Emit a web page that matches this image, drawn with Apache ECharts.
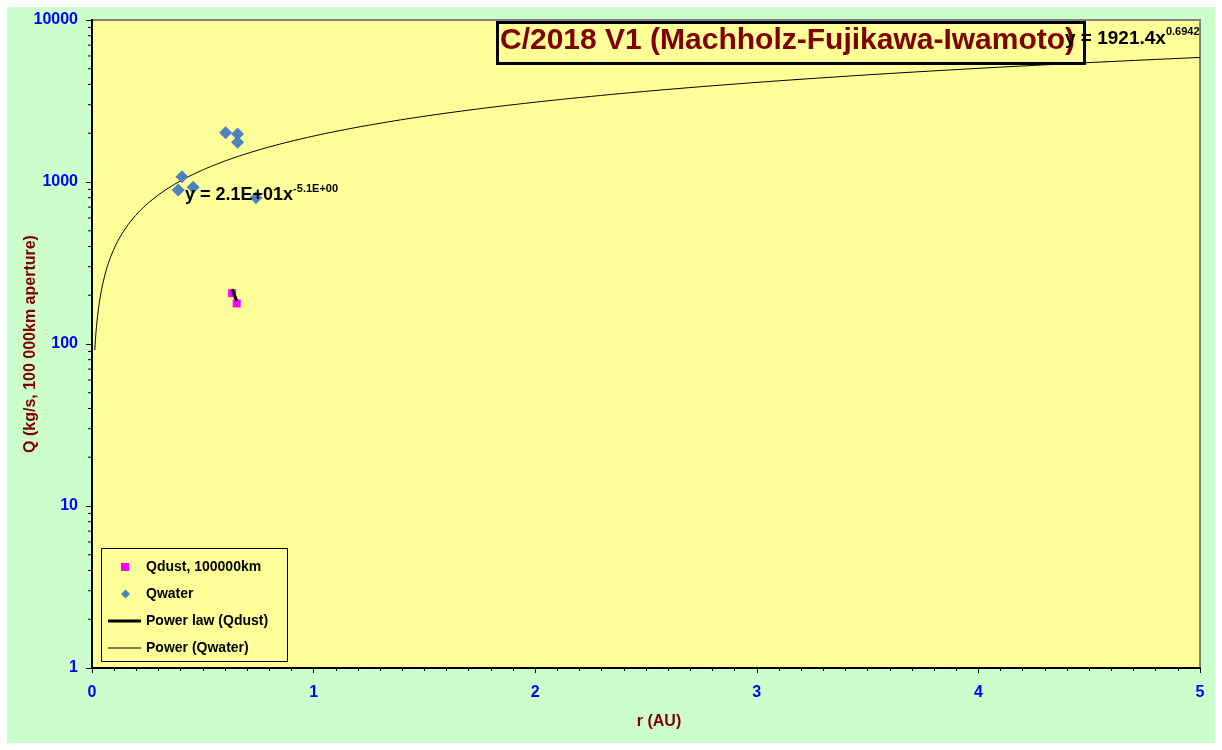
<!DOCTYPE html>
<html>
<head>
<meta charset="utf-8">
<script src="https://cdn.jsdelivr.net/npm/echarts@6/dist/echarts.min.js"></script>
<style>
html,body{margin:0;padding:0;background:#ffffff;}
#chart{position:absolute;left:7px;top:7px;width:1208px;height:736px;}
</style>
</head>
<body>
<div id="chart"></div>
<script>
// ---- data ----
const titleText = 'C/2018 V1 (Machholz-Fujikawa-Iwamoto)';
const xAxisName = 'r (AU)';
const yAxisName = 'Q (kg/s, 100 000km aperture)';
const seriesNames = ['Qdust, 100000km', 'Qwater', 'Power law (Qdust)', 'Power (Qwater)'];

const qdustR = [0.632, 0.653];
const qdustQ = [206, 178];

const qwaterR = [0.603, 0.657, 0.657, 0.406, 0.389, 0.457, 0.740];
const qwaterQ = [2015, 1977, 1758, 1078, 893, 927, 800];

// trendline coefficients as printed on the chart
const dustFitA = 21, dustFitB = -5.1;
const waterFitA = 1921.4, waterFitB = 0.6942;
const waterFitRange = [0.0125, 5];
const dustFitLabel = ['y = 2.1E+01x', '-5.1E+00'];
const waterFitLabel = ['y = 1921.4x', '0.6942'];

const yMinorTickValues = [];
[1, 10, 100, 1000].forEach(d => { for (let k = 2; k <= 9; k++) yMinorTickValues.push(k * d); });

// ---- build series data ----
const dustPts = qdustR.map((r, i) => [r, qdustQ[i]]);
const waterPts = qwaterR.map((r, i) => [r, qwaterQ[i]]);
const dustTrend = qdustR.map(r => [r, dustFitA * Math.pow(r, dustFitB)]);
const waterTrend = [];
const N = 300;
for (let i = 0; i <= N; i++) {
  const r = waterFitRange[0] * Math.pow(waterFitRange[1] / waterFitRange[0], i / N);
  waterTrend.push([r, waterFitA * Math.pow(r, waterFitB)]);
}

const FONT = "'Liberation Sans', Arial, sans-serif";
const chart = echarts.init(document.getElementById('chart'), null, {renderer: 'canvas'});

const legendText = {color: '#000', fontWeight: 'bold', fontSize: 14, fontFamily: FONT};
function legendRow(name, top, left, w, h, icon, textPad) {
  return {
    orient: 'vertical', left: left, top: top, padding: 0, borderWidth: 0,
    itemWidth: w, itemHeight: h, selectedMode: false,
    textStyle: Object.assign({padding: [0, 0, 0, textPad]}, legendText),
    data: [{name: name, icon: icon}]
  };
}

chart.setOption({
  backgroundColor: '#CCFFCC',
  animation: false,
  grid: {
    left: 85, top: 13, width: 1108, height: 648,
    containLabel: false, outerBoundsMode: 'none',
    show: true, backgroundColor: '#FFFF99', borderColor: '#808080', borderWidth: 2
  },
  xAxis: {
    type: 'value', min: 0, max: 5, interval: 1,
    name: xAxisName, nameLocation: 'middle', nameGap: 46, nameMoveOverlap: false,
    nameTextStyle: {color: '#800000', fontWeight: 'bold', fontSize: 16, fontFamily: FONT, padding: [0, 0, 0, 26]},
    axisLine: {show: true, onZero: false, lineStyle: {color: '#000', width: 2}},
    axisTick: {show: true, inside: false, length: 5, lineStyle: {color: '#000', width: 1}},
    minorTick: {show: true, splitNumber: 10, length: 3, lineStyle: {color: '#000', width: 1}},
    splitLine: {show: false},
    axisLabel: {color: '#0000FF', fontWeight: 'bold', fontSize: 16, fontFamily: FONT, margin: 17}
  },
  yAxis: {
    type: 'log', logBase: 10, min: 1, max: 10000,
    name: yAxisName, nameLocation: 'middle', nameGap: 53, nameRotate: 90, nameMoveOverlap: false,
    nameTextStyle: {color: '#800000', fontWeight: 'bold', fontSize: 16, fontFamily: FONT},
    axisLine: {show: true, onZero: false, lineStyle: {color: '#000', width: 2}},
    axisTick: {show: true, inside: false, length: 6, lineStyle: {color: '#000', width: 1}},
    splitLine: {show: false},
    axisLabel: {color: '#0000FF', fontWeight: 'bold', fontSize: 16, fontFamily: FONT, margin: 14,
                formatter: v => String(Math.round(v))}
  },
  legend: [
    legendRow(seriesNames[0], 553, 114, 8, 8, 'rect', 12),
    legendRow(seriesNames[1], 580, 114, 9, 9, 'diamond', 11),
    legendRow(seriesNames[2], 607, 101, 33, 3, 'rect', 0),
    legendRow(seriesNames[3], 634, 101, 33, 1, 'rect', 0)
  ],
  series: [
    {
      name: seriesNames[0], type: 'scatter', data: dustPts,
      symbol: 'rect', symbolSize: 8, itemStyle: {color: '#FF00FF', opacity: 1}, z: 3
    },
    {
      name: seriesNames[1], type: 'scatter', data: waterPts,
      symbol: 'diamond', symbolSize: 13, itemStyle: {color: '#4F81BD', opacity: 1}, z: 3
    },
    {
      name: seriesNames[2], type: 'line', data: dustTrend, showSymbol: false, symbol: 'none',
      lineStyle: {color: '#000', width: 3}, itemStyle: {color: '#000'}, z: 4
    },
    {
      name: seriesNames[3], type: 'line', data: waterTrend, showSymbol: false, symbol: 'none',
      lineStyle: {color: '#000', width: 1}, itemStyle: {color: '#000'}, z: 2
    },
    {
      name: 'yMinorTicks', type: 'custom', clip: false, silent: true, z: 5,
      data: yMinorTickValues.map(v => [0, v]),
      renderItem: function (params, api) {
        const p = api.coord([0, api.value(1)]);
        return {type: 'line', shape: {x1: p[0] - 4, y1: p[1], x2: p[0], y2: p[1]},
                style: {stroke: '#000', lineWidth: 1}};
      }
    }
  ],
  graphic: [
    {type: 'rect', left: 94, top: 541, shape: {width: 186, height: 113},
     style: {fill: 'rgba(0,0,0,0)', stroke: '#000', lineWidth: 1}, z: 10},
    {type: 'rect', left: 489, top: 14, shape: {width: 587, height: 41},
     style: {fill: '#FFFF99', stroke: '#000', lineWidth: 3}, z: 20},
    {type: 'text', left: 493, top: 19, z: 21,
     style: {text: titleText, fill: '#800000', font: "bold 30px " + FONT}},
    {type: 'text', left: 1058, top: 19, z: 22,
     style: {text: '{m|' + waterFitLabel[0] + '}{s|' + waterFitLabel[1] + '}',
       rich: {m: {fontSize: 19, fontWeight: 'bold', fontFamily: FONT, fill: '#000', color: '#000', lineHeight: 22, verticalAlign: 'bottom'},
              s: {fontSize: 11, fontWeight: 'bold', fontFamily: FONT, fill: '#000', color: '#000', lineHeight: 22, verticalAlign: 'top'}}}},
    {type: 'text', left: 178, top: 176, z: 22,
     style: {text: '{m|' + dustFitLabel[0] + '}{s|' + dustFitLabel[1] + '}',
       rich: {m: {fontSize: 18, fontWeight: 'bold', fontFamily: FONT, fill: '#000', color: '#000', lineHeight: 21, verticalAlign: 'bottom'},
              s: {fontSize: 11, fontWeight: 'bold', fontFamily: FONT, fill: '#000', color: '#000', lineHeight: 21, verticalAlign: 'top'}}}}
  ]
});
</script>
</body>
</html>
